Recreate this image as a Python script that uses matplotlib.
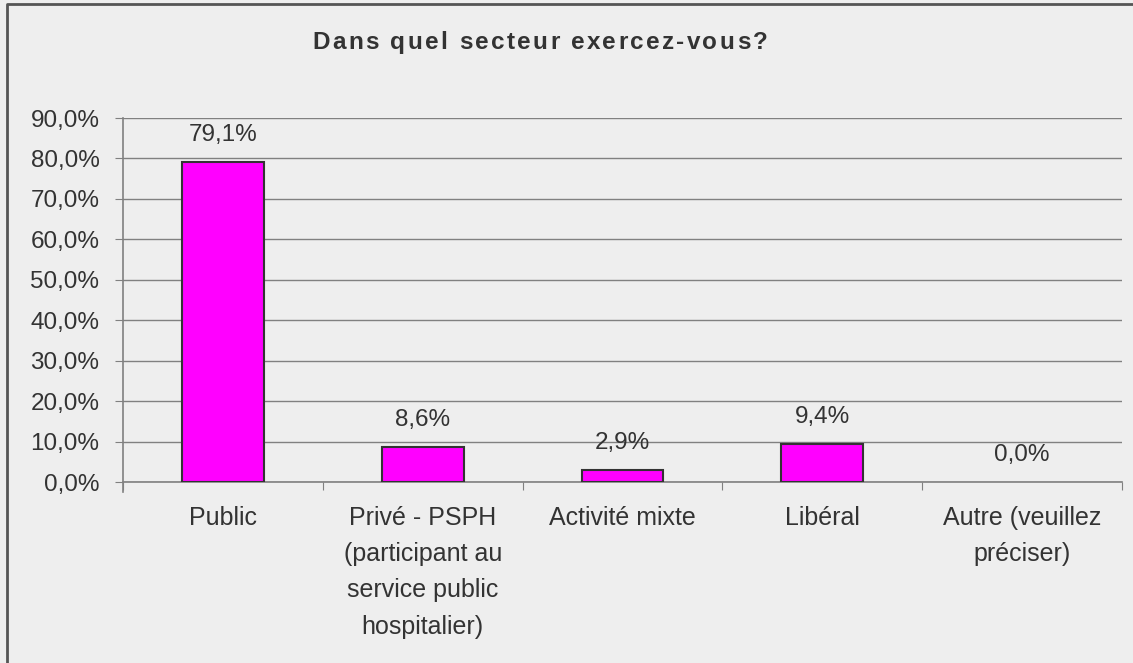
import matplotlib.pyplot as plt
from matplotlib.lines import Line2D

categories = ['Public', 'Privé - PSPH\n(participant au\nservice public\nhospitalier)',
              'Activité mixte', 'Libéral', 'Autre (veuillez\npréciser)']
values = [79.1, 8.6, 2.9, 9.4, 0.0]
yticks = [0, 10, 20, 30, 40, 50, 60, 70, 80, 90]
title = 'Dans quel secteur exercez-vous?'

bg = '#eeeeee'
txt = '#333333'
plt.rcParams['font.family'] = ['Liberation Sans', 'DejaVu Sans']

W, H = 1133, 663
fig = plt.figure(figsize=(W/100, H/100), dpi=100, facecolor=bg)
ax = fig.add_axes([123/W, 1-482/H, (1122-123)/W, (482-118)/H])
ax.set_facecolor(bg)

x = list(range(len(categories)))
lw = [1.5 if v > 0 else 0 for v in values]
ax.bar(x, values, width=0.41, color='#ff00ff', edgecolor='#333333', linewidth=lw, zorder=3)

for xi, v in zip(x, values):
    ax.annotate(('%.1f%%' % v).replace('.', ','), (xi, v), xytext=(0, 15),
                textcoords='offset points', ha='center', va='baseline',
                fontsize=17.5, color=txt)

ax.set_xlim(-0.5, len(categories) - 0.5)
ax.set_ylim(0, 90)
ax.set_yticks(yticks)
ax.set_yticklabels([('%.1f%%' % t).replace('.', ',') for t in yticks])
ax.yaxis.grid(True, color='#808080', linewidth=1)
ax.set_axisbelow(True)

ax.set_xticks([i - 0.5 for i in range(len(categories) + 1)])
ax.set_xticklabels([])
ax.set_xticks(x, minor=True)
ax.set_xticklabels(categories, minor=True, linespacing=1.65)
ax.tick_params(axis='x', which='major', length=6, color='#808080', direction='out')
ax.tick_params(axis='x', which='minor', length=0, pad=17, labelsize=18, labelcolor=txt)
ax.tick_params(axis='y', length=6, color='#808080', pad=11, labelsize=17.5, labelcolor=txt)

for s in ['top', 'right']:
    ax.spines[s].set_visible(False)
for s in ['left', 'bottom']:
    ax.spines[s].set_color('#808080')
    ax.spines[s].set_linewidth(1.2)
ax.spines['left'].set_bounds(-2.5, 90)

# title with extra letter spacing, drawn char by char
renderer = fig.canvas.get_renderer()
spacing = 2.3
kw = dict(fontsize=17.5, fontweight='bold', color=txt, va='baseline', ha='left')
widths = []
for ch in title:
    t = fig.text(0, 0, ch if ch != ' ' else 'i', **kw)
    widths.append(t.get_window_extent(renderer).width)
    t.remove()
total = sum(widths) + spacing * (len(title) - 1)
xpos = 540 - total / 2
for ch, w in zip(title, widths):
    if ch != ' ':
        fig.text(xpos / W, 1 - 49 / H, ch, **kw)
    xpos += w + spacing

fig.add_artist(Line2D([7/W, 7/W, 1.0], [0.0, 1-4/H, 1-4/H],
                      transform=fig.transFigure, color='#555555', linewidth=2))

fig.savefig('out.png', dpi=100, facecolor=bg)
